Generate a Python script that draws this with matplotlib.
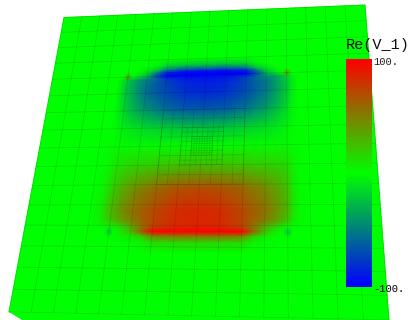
#!/usr/bin/env python3
"""Re(V_1) on a tilted plate, drawn as a gouraud shaded mesh."""

import matplotlib

matplotlib.use("Agg")
import matplotlib.pyplot as plt
import numpy as np
from matplotlib.collections import LineCollection
from matplotlib.colors import LinearSegmentedColormap

# field nodes on the plate, in mesh cell units (plate is 16 x 16 cells)
node_u = [0, 3, 3.5, 3.8, 4, 4.2, 4.5, 5, 5.5, 6, 7, 8, 9, 10, 10.5, 11, 11.5, 11.8, 12, 12.2, 12.5, 13, 16]
node_v = [0, 3, 3.4, 3.7, 3.8, 4, 4.2, 4.5, 5, 6, 7, 8, 9.1, 10.2, 11.3, 11.8, 12.1, 12.3, 12.5, 12.8, 13.3, 16]

# Re(V_1) at the nodes, one row per node_v
v_values = [
    [0, 0, 0, 0, 0, 0, 0, 0, 0, 0, 0, 0, 0, 0, 0, 0, 0, 0, 0, 0, 0, 0, 0],
    [0, 0, 0, 0, 0, 0, 0, 0, 0, 0, 0, 0, 0, 0, 0, 0, 0, 0, 0, 0, 0, 0, 0],
    [0, 0, 0, 0, 0, 0, 0, 0, -5, -18, -25, -25, -25, -18, -5, 0, 0, 0, 0, 0, 0, 0, 0],
    [0, 0, 0, 0, 0, 0, -2, -10, -30, -60, -75, -75, -75, -60, -30, -10, -2, 0, 0, 0, 0, 0, 0],
    [0, 0, 0, 0, 5, 0, -5, -18, -50, -85, -95, -95, -95, -85, -50, -18, -5, 0, 5, 0, 0, 0, 0],
    [0, 0, 0, 0, 50, 0, -10, -30, -75, -100, -100, -100, -100, -100, -75, -30, -10, 0, 50, 0, 0, 0, 0],
    [0, 0, 0, -12, -20, -28, -38, -50, -60, -78, -90, -92, -90, -76, -58, -48, -36, -26, -20, -8, 0, 0, 0],
    [0, 0, 0, -14, -24, -30, -40, -55, -64, -72, -84, -87, -84, -72, -62, -53, -38, -28, -22, -10, 0, 0, 0],
    [0, 0, 0, -14, -24, -30, -40, -56, -64, -71, -82, -85, -82, -71, -62, -53, -38, -28, -22, -10, 0, 0, 0],
    [0, 0, 0, -10, -16, -22, -30, -40, -48, -55, -64, -66, -64, -55, -47, -40, -28, -20, -14, -6, 0, 0, 0],
    [0, 0, 0, -3, -6, -8, -11, -14, -17, -20, -24, -26, -24, -20, -17, -14, -10, -7, -5, -2, 0, 0, 0],
    [0, 0, 1, 2, 2, 2, 2, 2, 2, 2, 2, 2, 2, 2, 2, 2, 2, 2, 2, 2, 1, 0, 0],
    [0, 0, 3, 9, 12, 14, 17, 20, 22, 24, 27, 29, 27, 25, 23, 21, 19, 17, 15, 8, 2, 0, 0],
    [0, 0, 6, 15, 22, 27, 35, 45, 52, 58, 68, 70, 68, 59, 52, 46, 36, 30, 25, 12, 2, 0, 0],
    [0, 0, 8, 22, 30, 35, 45, 56, 64, 72, 83, 85, 83, 72, 64, 56, 44, 35, 30, 14, 3, 0, 0],
    [0, 0, 6, 16, 22, 27, 36, 50, 62, 72, 83, 85, 83, 72, 60, 50, 37, 28, 22, 10, 2, 0, 0],
    [0, 0, 1, 3, 5, 6, 14, 32, 56, 76, 86, 88, 86, 76, 54, 30, 14, 6, 3, 1, 0, 0, 0],
    [0, 0, 0, 0, -30, 0, 8, 28, 66, 100, 100, 100, 100, 100, 62, 25, 6, 0, -30, 0, 0, 0, 0],
    [0, 0, 0, 0, -3, 0, 4, 10, 22, 50, 56, 56, 56, 50, 20, 8, 2, 0, -3, 0, 0, 0, 0],
    [0, 0, 0, 0, 0, 0, 0, 1, 4, 14, 16, 16, 16, 14, 4, 1, 0, 0, 0, 0, 0, 0, 0],
    [0, 0, 0, 0, 0, 0, 0, 0, 0, 0, 0, 0, 0, 0, 0, 0, 0, 0, 0, 0, 0, 0, 0],
    [0, 0, 0, 0, 0, 0, 0, 0, 0, 0, 0, 0, 0, 0, 0, 0, 0, 0, 0, 0, 0, 0, 0],
]

bar_label = "Re(V_1)"
bar_ticks = ["100.", "-100."]
bar_range = [100, -100]

# plate corners in pixels: top left, top right, bottom right, bottom left
plate_px = [(64, 17.5), (365, 5), (389, 320), (9, 312)]
side_px = [(9, 312), (389, 320), (392, 340), (43, 333)]
CELLS = 16

cmap = LinearSegmentedColormap.from_list("rgb_v", ["#0000ff", "#00ff00", "#ff0000"], N=512)


def fit_homography(corners):
    src = [(0, 0), (CELLS, 0), (CELLS, CELLS), (0, CELLS)]
    a, b = [], []
    for (u, v), (x, y) in zip(src, corners):
        a.append([u, v, 1, 0, 0, 0, -u * x, -v * x])
        a.append([0, 0, 0, u, v, 1, -u * y, -v * y])
        b += [x, y]
    return np.append(np.linalg.solve(np.array(a, float), np.array(b, float)), 1.0).reshape(3, 3)


def project(h, u, v):
    u, v = np.asarray(u, float), np.asarray(v, float)
    w = h[2, 0] * u + h[2, 1] * v + h[2, 2]
    return (h[0, 0] * u + h[0, 1] * v + h[0, 2]) / w, (h[1, 0] * u + h[1, 1] * v + h[1, 2]) / w


def split_cell(u, v, size, out):
    # mesh gets finer toward the plate centre
    dist = max(abs(u + size / 2 - CELLS / 2), abs(v + size / 2 - CELLS / 2))
    if size > 0.125 and dist < 1.6 * size:
        half = size / 2
        for du, dv in [(0, 0), (half, 0), (0, half), (half, half)]:
            split_cell(u + du, v + dv, half, out)
    else:
        out.append((u, v, size))


def mesh_segments(h):
    cells = []
    for i in range(CELLS):
        for j in range(CELLS):
            split_cell(i, j, 1.0, cells)
    segs = set()
    for u, v, s in cells:
        segs.add((u, v, u + s, v))
        segs.add((u, v + s, u + s, v + s))
        segs.add((u, v, u, v + s))
        segs.add((u + s, v, u + s, v + s))
    out = []
    for u0, v0, u1, v1 in segs:
        x, y = project(h, [u0, u1], [v0, v1])
        out.append(list(zip(x, y)))
    return out


def main():
    fig = plt.figure(figsize=(4.12, 3.2), dpi=100)
    ax = fig.add_axes([0, 0, 1, 1])
    ax.set_xlim(0, 412)
    ax.set_ylim(320, 0)
    ax.axis("off")

    h = fit_homography(plate_px)
    uu, vv = np.meshgrid(node_u, node_v)
    xx, yy = project(h, uu, vv)

    ax.fill(*zip(*side_px), color="#00ff00", lw=0, zorder=1)
    ax.fill(*zip(*plate_px), color="#00ff00", lw=0.4, ec="#c0d0c0", zorder=1)
    ax.pcolormesh(xx, yy, np.array(v_values, float), cmap=cmap, vmin=-100, vmax=100,
                  shading="gouraud", zorder=2)
    ax.add_collection(LineCollection(mesh_segments(h), colors="black", alpha=0.13, linewidths=0.55, zorder=3))

    levels = np.linspace(bar_range[0], bar_range[1], 228).reshape(-1, 1)
    ax.imshow(levels, cmap=cmap, vmin=-100, vmax=100, extent=[346, 372, 287, 59], aspect="auto",
              interpolation="bilinear", zorder=4)
    ax.set_xlim(0, 412)
    ax.set_ylim(320, 0)

    ax.text(346, 45, bar_label, family="Liberation Mono", fontsize=11, color="#101010", va="center", ha="left", zorder=5)
    ax.text(373, 62, bar_ticks[0], family="Liberation Mono", fontsize=7.6, color="#202020", va="center", ha="left", zorder=5)
    ax.text(373, 289, bar_ticks[1], family="Liberation Mono", fontsize=7.6, color="#000000", va="center", ha="left", zorder=5)

    fig.savefig("out.png", dpi=100)
    plt.close(fig)


if __name__ == "__main__":
    main()
